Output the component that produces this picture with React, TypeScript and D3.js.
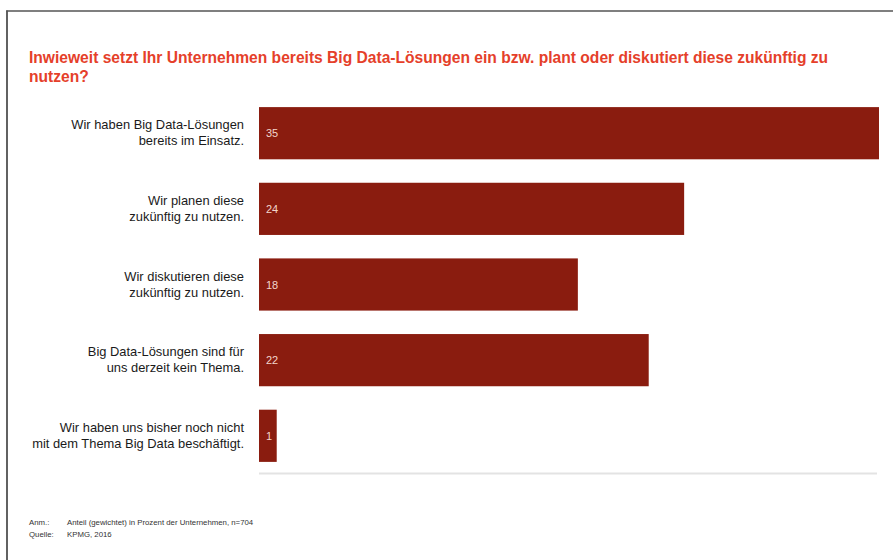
import React, { useEffect, useRef } from "react";
import * as d3 from "d3";

const categories: string[][] = [
  ["Wir haben Big Data-Lösungen", "bereits im Einsatz."],
  ["Wir planen diese", "zukünftig zu nutzen."],
  ["Wir diskutieren diese", "zukünftig zu nutzen."],
  ["Big Data-Lösungen sind für", "uns derzeit kein Thema."],
  ["Wir haben uns bisher noch nicht", "mit dem Thema Big Data beschäftigt."],
];
const values: number[] = [35, 24, 18, 22, 1];
const titleLines: string[] = [
  "Inwieweit setzt Ihr Unternehmen bereits Big Data-Lösungen ein bzw. plant oder diskutiert diese zukünftig zu",
  "nutzen?",
];
const notes: [string, string][] = [
  ["Anm.:", "Anteil (gewichtet) in Prozent der Unternehmen, n=704"],
  ["Quelle:", "KPMG, 2016"],
];

const W = 893;
const H = 560;

export default function App() {
  const ref = useRef<SVGSVGElement>(null);
  useEffect(() => {
    const svg = d3.select(ref.current);
    svg.selectAll("*").remove();
    const font = "'Liberation Sans', Arial, Helvetica, sans-serif";

    svg.append("rect").attr("width", W).attr("height", H).attr("fill", "#ffffff");
    // frame
    svg.append("line").attr("x1", 7).attr("x2", 7).attr("y1", 10.5).attr("y2", H).attr("stroke", "#3a3a3a").attr("stroke-width", 1.6);
    svg.append("line").attr("x1", 6.2).attr("x2", W).attr("y1", 11).attr("y2", 11).attr("stroke", "#555").attr("stroke-width", 1.6);

    // title
    const t = svg.append("text").attr("font-family", font).attr("font-weight", "bold").attr("font-size", 15.6).attr("fill", "#e5402a");
    titleLines.forEach((l, i) => {
      t.append("tspan").attr("x", 29).attr("y", 63 + i * 18.5).text(l);
    });

    const x = d3.scaleLinear().domain([0, 35]).range([259, 879]);
    const y = d3.scaleBand<number>().domain(d3.range(values.length)).range([95, 474]).paddingInner(0.31).paddingOuter(0.16);

    // baseline
    svg.append("line").attr("x1", x(0)).attr("x2", 877).attr("y1", 473.5).attr("y2", 473.5).attr("stroke", "#e3e3e3").attr("stroke-width", 2);

    const g = svg.append("g");
    values.forEach((v, i) => {
      const yy = y(i)!;
      const bw = y.bandwidth();
      g.append("rect").attr("x", x(0)).attr("y", yy).attr("width", x(v) - x(0)).attr("height", bw).attr("fill", "#8a1c0f");
      g.append("text").attr("x", x(0) + 7).attr("y", yy + bw / 2 + 4).attr("font-family", font).attr("font-size", 11).attr("fill", "#f3d6cc").text(String(v));
      const lab = g.append("text").attr("font-family", font).attr("font-size", 12.9).attr("fill", "#1a1a1a").attr("text-anchor", "end");
      categories[i].forEach((l, j) => {
        lab.append("tspan").attr("x", 244).attr("y", yy + bw / 2 - 4 + j * 16).text(l);
      });
    });

    notes.forEach(([a, b], i) => {
      svg.append("text").attr("x", 29).attr("y", 525 + i * 11.5).attr("font-family", font).attr("font-size", 7.8).attr("fill", "#333").text(a);
      svg.append("text").attr("x", 67).attr("y", 525 + i * 11.5).attr("font-family", font).attr("font-size", 7.8).attr("fill", "#333").text(b);
    });
  }, []);
  return (
    <svg ref={ref} width={W} height={H} style={{ position: "absolute", left: 0, top: 0, display: "block" }} />
  );
}
